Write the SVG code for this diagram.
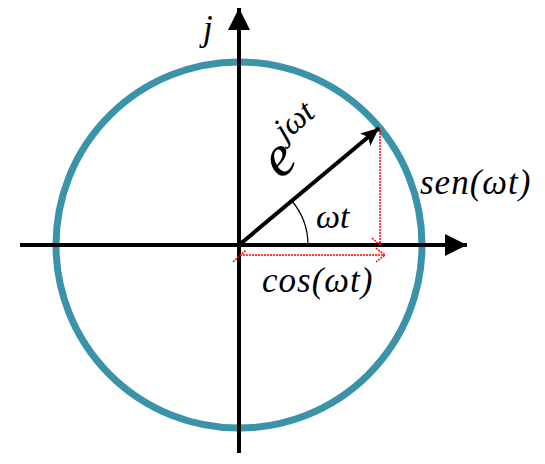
<svg xmlns="http://www.w3.org/2000/svg" width="545" height="464" viewBox="0 0 545 464">
<style>
.axis{stroke:#000;stroke-width:4;fill:none}
.red{stroke:#ff0000;stroke-width:1.5;stroke-dasharray:2 1;fill:none}
</style>
<defs>
<marker id="ah" markerUnits="userSpaceOnUse" markerWidth="24" markerHeight="24" refX="22" refY="11" orient="auto"><path d="M0,0 L22,11 L0,22 Z" fill="#000"/></marker>
<marker id="ahv" markerUnits="userSpaceOnUse" markerWidth="20" markerHeight="16" refX="18" refY="8" orient="auto"><path d="M0,0 L18,8 L0,16 L4,8 Z" fill="#000"/></marker>
</defs>
<g id="circle"><circle cx="239" cy="245" r="183" fill="none" stroke="#3a93a8" stroke-width="7"/></g>
<g id="connectors">
<line class="axis" x1="20" y1="245" x2="467" y2="245" marker-end="url(#ah)"/>
<line class="axis" x1="239" y1="453" x2="239" y2="8" marker-end="url(#ah)"/>
<line x1="239" y1="245" x2="379" y2="128" stroke="#000" stroke-width="4" marker-end="url(#ahv)"/>
<path d="M308,245 A69,69 0 0 0 292,201" stroke="#000" stroke-width="1.2" fill="none"/>
<line class="red" x1="380" y1="130" x2="380" y2="245"/>
<path class="red" d="M372,238 L380,245"/>
<line class="red" x1="240" y1="255" x2="385" y2="255"/>
<path class="red" d="M376,248 L385,255 L376,262"/>
<path class="red" d="M233,262 L246,250"/>
</g>
<g id="labels" font-family="Liberation Serif, serif" font-style="italic" fill="#000">
<text x="203" y="40" font-size="35">j</text>
<text x="316" y="228" font-size="34">ωt</text>
<text x="262" y="292" font-size="35" letter-spacing="1">cos(ωt)</text>
<text x="420" y="194" font-size="35" letter-spacing="1">sen(ωt)</text>
<g transform="translate(280,180) rotate(-40)">
<text x="0" y="0" font-size="58">e</text>
<text x="28" y="-26" font-size="33">jωt</text>
</g>
</g>
</svg>
